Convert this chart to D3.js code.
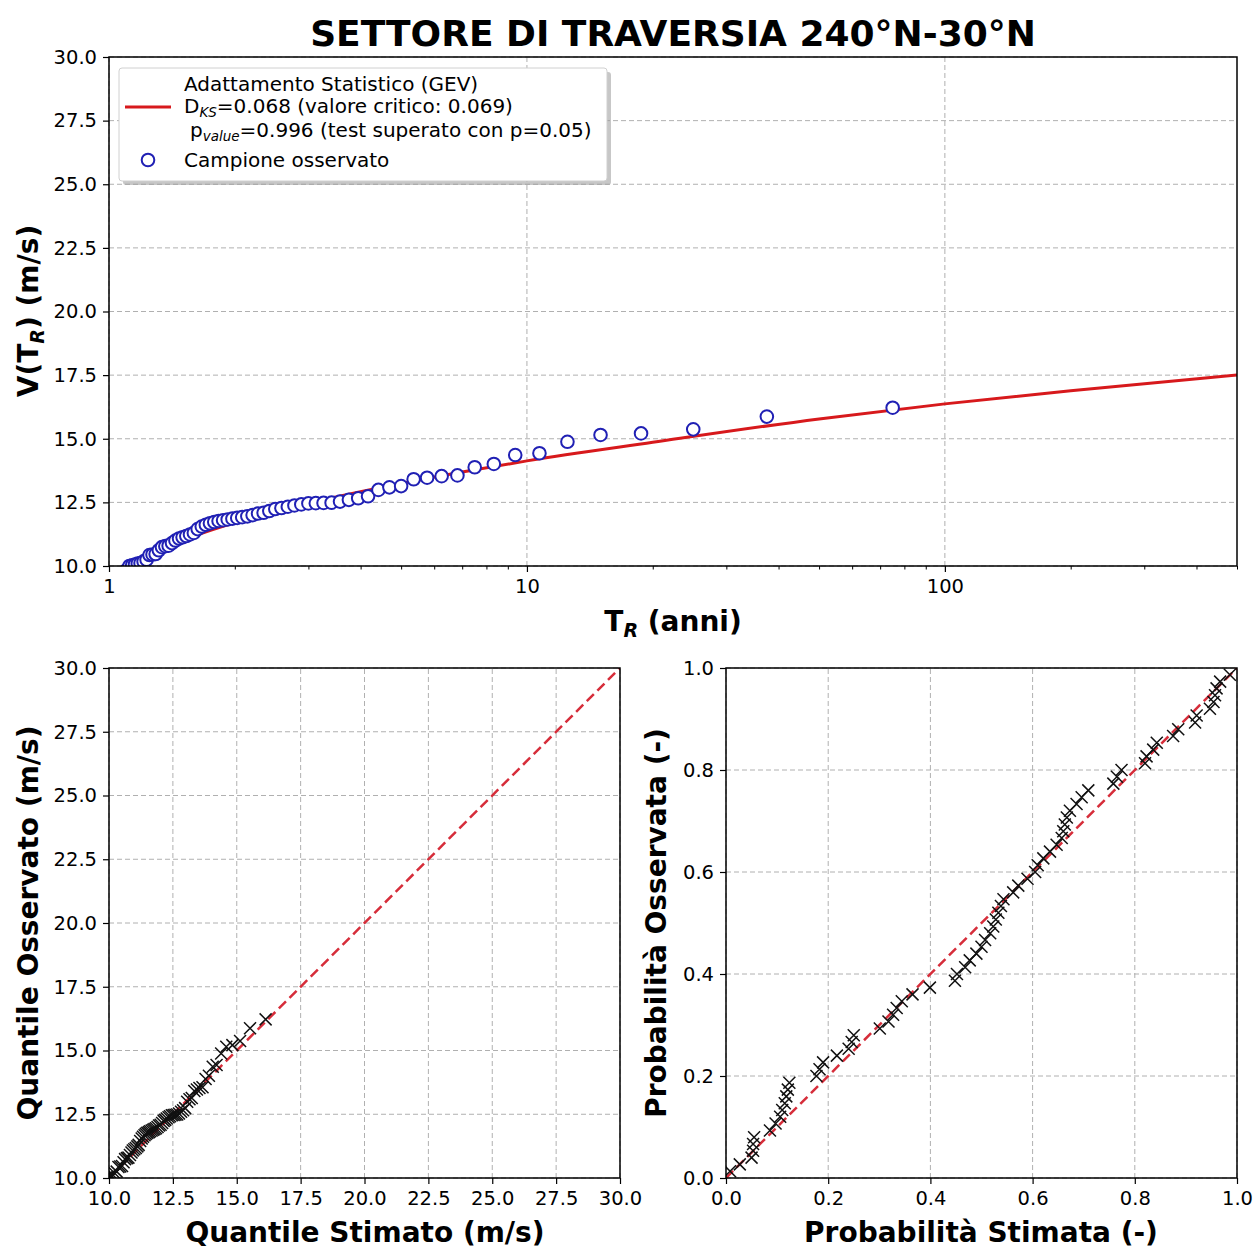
<!DOCTYPE html>
<html><head><meta charset="utf-8">
<script src="https://cdn.jsdelivr.net/npm/d3@7"></script>
<style>
body{margin:0;background:#fff}
text{font-family:"DejaVu Sans",sans-serif;fill:#000}
</style>
</head><body>
<svg id="fig" width="1253" height="1248"></svg>
<script>
// Annual maxima sample, sorted ascending (m/s)
const observedSpeed = [8.5,9.0,9.45,9.5,9.55,9.6,9.85,10.0,10.03,10.06,10.10,10.12,10.18,10.25,10.43,10.45,10.47,10.62,10.74,10.78,10.80,10.90,11.0,11.08,11.13,11.18,11.24,11.30,11.45,11.55,11.62,11.68,11.73,11.77,11.80,11.83,11.86,11.89,11.92,11.95,12.0,12.06,12.09,12.16,12.24,12.28,12.33,12.38,12.42,12.46,12.47,12.48,12.49,12.53,12.60,12.66,12.74,12.99,13.09,13.14,13.41,13.47,13.53,13.56,13.88,14.01,14.36,14.43,14.88,15.15,15.21,15.37,15.87,16.22];
// Empirical return period of each sample value (anni)
const returnPeriod = [1.014,1.027,1.042,1.056,1.071,1.087,1.103,1.119,1.136,1.154,1.172,1.190,1.210,1.230,1.25,1.271,1.293,1.316,1.339,1.364,1.389,1.415,1.442,1.471,1.5,1.531,1.5625,1.596,1.630,1.667,1.705,1.744,1.786,1.829,1.875,1.923,1.974,2.027,2.083,2.143,2.206,2.273,2.344,2.419,2.5,2.586,2.679,2.778,2.885,3.0,3.125,3.261,3.409,3.571,3.75,3.947,4.167,4.412,4.6875,5.0,5.357,5.769,6.25,6.818,7.5,8.333,9.375,10.714,12.5,15.0,18.75,25.0,37.5,75.0];
// GEV quantiles at the same plotting positions (m/s)
const quantileEstimated = [8.60,8.93,9.15,9.32,9.47,9.59,9.70,9.81,9.90,9.99,10.07,10.15,10.23,10.30,10.37,10.44,10.51,10.57,10.63,10.70,10.76,10.82,10.88,10.93,10.99,11.05,11.11,11.16,11.22,11.28,11.33,11.39,11.44,11.50,11.56,11.61,11.67,11.73,11.78,11.84,11.90,11.96,12.02,12.08,12.14,12.20,12.26,12.33,12.39,12.46,12.53,12.60,12.67,12.74,12.82,12.90,12.98,13.06,13.15,13.24,13.34,13.44,13.54,13.66,13.78,13.91,14.06,14.21,14.39,14.59,14.83,15.13,15.52,16.13];
// GEV non-exceedance probability of each sample value
const probEstimated = [0.008,0.027,0.050,0.053,0.053,0.055,0.086,0.097,0.106,0.110,0.115,0.118,0.121,0.124,0.177,0.183,0.190,0.217,0.240,0.246,0.250,0.301,0.318,0.327,0.334,0.344,0.365,0.399,0.448,0.452,0.468,0.477,0.490,0.500,0.507,0.517,0.523,0.528,0.533,0.538,0.543,0.562,0.572,0.590,0.605,0.610,0.621,0.634,0.647,0.657,0.660,0.663,0.667,0.673,0.686,0.696,0.709,0.758,0.765,0.774,0.820,0.823,0.836,0.843,0.875,0.885,0.918,0.921,0.947,0.954,0.957,0.960,0.967,0.986];
// Empirical (Weibull) non-exceedance probability
const probObserved = [0.0133,0.0267,0.04,0.0533,0.0667,0.08,0.0933,0.1067,0.12,0.1333,0.1467,0.16,0.1733,0.1867,0.2,0.2133,0.2267,0.24,0.2533,0.2667,0.28,0.2933,0.3067,0.32,0.3333,0.3467,0.36,0.3733,0.3867,0.4,0.4133,0.4267,0.44,0.4533,0.4667,0.48,0.4933,0.5067,0.52,0.5333,0.5467,0.56,0.5733,0.5867,0.6,0.6133,0.6267,0.64,0.6533,0.6667,0.68,0.6933,0.7067,0.72,0.7333,0.7467,0.76,0.7733,0.7867,0.8,0.8133,0.8267,0.84,0.8533,0.8667,0.88,0.8933,0.9067,0.92,0.9333,0.9467,0.96,0.9733,0.9867];
// Fitted GEV return-level curve
const fitReturnPeriod = [1.05,1.1,1.2,1.5,2,3,5,7,10,20,50,100,200,500];
const fitSpeed = [9.25,9.68,10.19,10.99,11.70,12.46,13.24,13.69,14.13,14.86,15.78,16.37,16.89,17.51];
// Tick values
const speedTicks = [10,12.5,15,17.5,20,22.5,25,27.5,30];
const periodTicks = [1,10,100];
const periodMinorTicks = [2,3,4,5,6,7,8,9,20,30,40,50,60,70,80,90,200,300,400,500];
const probTicks = [0,0.2,0.4,0.6,0.8,1.0];

const svg = d3.select("#fig");
const RED = "#d7191c", BLUE = "#2020b4", GRID = "#b0b0b0";
const TICKFONT = 19.5, LABELFONT = 28;

function frame(id, x0, x1, y0, y1) {
  svg.append("clipPath").attr("id", id).append("rect")
    .attr("x", x0).attr("y", y0).attr("width", x1 - x0).attr("height", y1 - y0);
  return svg.append("g");
}

function grid(g, xs, ys, xv, yv) {
  const [x0, x1] = xs.range(), [y0, y1] = ys.range();
  g.append("g").selectAll("line").data(xv).join("line")
    .attr("x1", d => xs(d)).attr("x2", d => xs(d)).attr("y1", y0).attr("y2", y1)
    .attr("stroke", GRID).attr("stroke-width", 1).attr("stroke-dasharray", "5,3");
  g.append("g").selectAll("line").data(yv).join("line")
    .attr("x1", x0).attr("x2", x1).attr("y1", d => ys(d)).attr("y2", d => ys(d))
    .attr("stroke", GRID).attr("stroke-width", 1).attr("stroke-dasharray", "5,3");
}

function axes(g, xs, ys, xv, yv, xfmt, yfmt, xminor) {
  const [x0, x1] = xs.range(), [y0, y1] = ys.range();
  const ax = g.append("g").attr("transform", `translate(0,${y0})`)
    .call(d3.axisBottom(xs).tickValues(xv).tickFormat(xfmt).tickSize(6).tickPadding(7));
  const ay = g.append("g").attr("transform", `translate(${x0},0)`)
    .call(d3.axisLeft(ys).tickValues(yv).tickFormat(yfmt).tickSize(6).tickPadding(6));
  if (xminor) {
    g.append("g").attr("transform", `translate(0,${y0})`)
      .call(d3.axisBottom(xs).tickValues(xminor).tickFormat("").tickSize(3.5))
      .call(s => s.select(".domain").remove())
      .selectAll("line").attr("stroke", "#000").attr("stroke-width", 1);
  }
  [ax, ay].forEach(a => {
    a.select(".domain").remove();
    a.selectAll(".tick line").attr("stroke", "#000").attr("stroke-width", 1.2);
    a.selectAll(".tick text").attr("font-size", TICKFONT)
      .attr("font-family", "DejaVu Sans").attr("fill", "#000");
  });
  g.append("rect").attr("x", x0).attr("y", y1).attr("width", x1 - x0).attr("height", y0 - y1)
    .attr("fill", "none").attr("stroke", "#000").attr("stroke-width", 1.5);
}

function xMarks(g, pts, xs, ys, clip) {
  const r = 6;
  g.append("g").attr("clip-path", `url(#${clip})`)
    .selectAll("path").data(pts).join("path")
    .attr("d", d => {
      const cx = xs(d[0]), cy = ys(d[1]);
      return `M${cx - r},${cy - r}L${cx + r},${cy + r}M${cx - r},${cy + r}L${cx + r},${cy - r}`;
    })
    .attr("stroke", "#111").attr("stroke-width", 1.5).attr("fill", "none");
}

function dashed45(g, xs, ys, a, b, clip) {
  g.append("line").attr("clip-path", `url(#${clip})`)
    .attr("x1", xs(a)).attr("y1", ys(a)).attr("x2", xs(b)).attr("y2", ys(b))
    .attr("stroke", "#d62d3a").attr("stroke-width", 2.5).attr("stroke-dasharray", "10,5");
}

// ---------- Return-level plot ----------
const tx = d3.scaleLog().domain([1, 500]).range([109, 1237]);
const ty = d3.scaleLinear().domain([10, 30]).range([566, 57]);
const gTop = frame("clipTop", 109, 1237, 57, 566);
grid(gTop, tx, ty, periodTicks, speedTicks);

const fitPts = fitReturnPeriod.map((t, i) => [t, fitSpeed[i]]);
gTop.append("path").attr("clip-path", "url(#clipTop)")
  .datum(fitPts)
  .attr("d", d3.line().x(d => tx(d[0])).y(d => ty(d[1])).curve(d3.curveMonotoneX))
  .attr("fill", "none").attr("stroke", RED).attr("stroke-width", 3);

gTop.append("g").attr("clip-path", "url(#clipTop)")
  .selectAll("circle").data(returnPeriod.map((t, i) => [t, observedSpeed[i]])).join("circle")
  .attr("cx", d => tx(d[0])).attr("cy", d => ty(d[1])).attr("r", 6.3)
  .attr("fill", "#fff").attr("stroke", BLUE).attr("stroke-width", 2);

axes(gTop, tx, ty, periodTicks, speedTicks, d3.format("d"), d3.format(".1f"), periodMinorTicks);

// Legend
const lg = gTop.append("g");
lg.append("rect").attr("x", 123).attr("y", 72).attr("width", 488).attr("height", 113)
  .attr("rx", 3).attr("fill", "#999").attr("opacity", 0.55);
lg.append("rect").attr("x", 119).attr("y", 68).attr("width", 488).attr("height", 113)
  .attr("rx", 3).attr("fill", "#fff").attr("stroke", "#d0d0d0").attr("stroke-width", 1);
lg.append("line").attr("x1", 125).attr("x2", 171).attr("y1", 107).attr("y2", 107)
  .attr("stroke", RED).attr("stroke-width", 3);
lg.append("circle").attr("cx", 148).attr("cy", 160).attr("r", 6.3)
  .attr("fill", "#fff").attr("stroke", BLUE).attr("stroke-width", 2);
const LF = 20;
lg.append("text").attr("x", 184).attr("y", 91).attr("font-size", LF).text("Adattamento Statistico (GEV)");
const l2 = lg.append("text").attr("x", 184).attr("y", 113).attr("font-size", LF);
l2.append("tspan").text("D");
l2.append("tspan").attr("font-size", 13.5).attr("font-style", "italic").attr("dy", 4).text("KS");
l2.append("tspan").attr("dy", -4).text("=0.068 (valore critico: 0.069)");
const l3 = lg.append("text").attr("x", 190).attr("y", 137).attr("font-size", LF);
l3.append("tspan").text("p");
l3.append("tspan").attr("font-size", 13.5).attr("font-style", "italic").attr("dy", 4).text("value");
l3.append("tspan").attr("dy", -4).text("=0.996 (test superato con p=0.05)");
lg.append("text").attr("x", 184).attr("y", 167).attr("font-size", LF).text("Campione osservato");

// Title and labels
svg.append("text").attr("x", 673).attr("y", 46).attr("text-anchor", "middle")
  .attr("font-size", 36).attr("font-weight", "bold").text("SETTORE DI TRAVERSIA 240°N-30°N");

const xl = svg.append("text").attr("x", 673).attr("y", 631).attr("text-anchor", "middle")
  .attr("font-size", LABELFONT).attr("font-weight", "bold");
xl.append("tspan").text("T");
xl.append("tspan").attr("font-size", 19).attr("font-style", "italic").attr("dy", 6).text("R");
xl.append("tspan").attr("dy", -6).text(" (anni)");

const yl = svg.append("text").attr("transform", "translate(38,311) rotate(-90)")
  .attr("text-anchor", "middle").attr("font-size", LABELFONT).attr("font-weight", "bold");
yl.append("tspan").text("V(T");
yl.append("tspan").attr("font-size", 19).attr("font-style", "italic").attr("dy", 6).text("R");
yl.append("tspan").attr("dy", -6).text(") (m/s)");

// ---------- Q-Q plot ----------
const qx = d3.scaleLinear().domain([10, 30]).range([109, 620]);
const qy = d3.scaleLinear().domain([10, 30]).range([1178, 668]);
const gQQ = frame("clipQQ", 109, 620, 668, 1178);
grid(gQQ, qx, qy, speedTicks, speedTicks);
dashed45(gQQ, qx, qy, 10, 30, "clipQQ");
xMarks(gQQ, quantileEstimated.map((q, i) => [q, observedSpeed[i]]), qx, qy, "clipQQ");
axes(gQQ, qx, qy, speedTicks, speedTicks, d3.format(".1f"), d3.format(".1f"));
svg.append("text").attr("x", 365).attr("y", 1242).attr("text-anchor", "middle")
  .attr("font-size", LABELFONT).attr("font-weight", "bold").text("Quantile Stimato (m/s)");
svg.append("text").attr("transform", "translate(38,923) rotate(-90)")
  .attr("text-anchor", "middle").attr("font-size", LABELFONT).attr("font-weight", "bold")
  .text("Quantile Osservato (m/s)");

// ---------- P-P plot ----------
const px = d3.scaleLinear().domain([0, 1]).range([726, 1237]);
const py = d3.scaleLinear().domain([0, 1]).range([1178, 668]);
const gPP = frame("clipPP", 726, 1237, 668, 1178);
grid(gPP, px, py, probTicks, probTicks);
dashed45(gPP, px, py, 0, 1, "clipPP");
xMarks(gPP, probEstimated.map((p, i) => [p, probObserved[i]]), px, py, "clipPP");
axes(gPP, px, py, probTicks, probTicks, d3.format(".1f"), d3.format(".1f"));
svg.append("text").attr("x", 981).attr("y", 1242).attr("text-anchor", "middle")
  .attr("font-size", LABELFONT).attr("font-weight", "bold").text("Probabilità Stimata (-)");
svg.append("text").attr("transform", "translate(666,923) rotate(-90)")
  .attr("text-anchor", "middle").attr("font-size", LABELFONT).attr("font-weight", "bold")
  .text("Probabilità Osservata (-)");
</script>
</body></html>
